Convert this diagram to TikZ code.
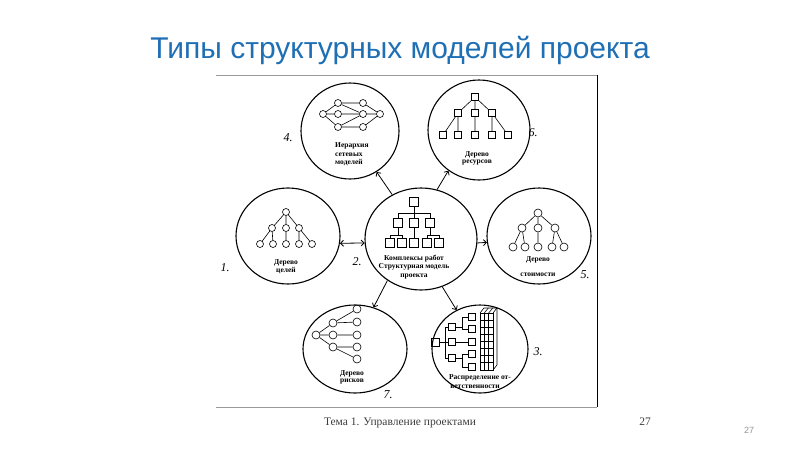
\documentclass[tikz,border=0pt]{standalone}
\usepackage{fontspec}
\setmainfont{Liberation Serif}
\newfontfamily\titlefont{Liberation Sans}
\usetikzlibrary{shapes.geometric,arrows.meta}
\definecolor{titleblue}{RGB}{31,111,181}
\definecolor{footgray}{RGB}{60,60,60}
\definecolor{numgray}{RGB}{150,150,150}
\begin{document}
\begin{tikzpicture}[x=1pt,y=-1pt,
  big/.style={ellipse,draw,line width=1.1pt,inner sep=0pt},
  tn/.style={circle,draw,line width=0.6pt,inner sep=0pt,minimum size=7pt},
  tb/.style={rectangle,draw,line width=0.6pt,inner sep=0pt,minimum size=7pt},
  lnk/.style={line width=0.6pt},
  arr/.style={line width=0.8pt,-{Straight Barb[length=3pt,width=6pt]}},
  darr/.style={line width=0.8pt,{Straight Barb[length=3pt,width=6pt]}-{Straight Barb[length=3pt,width=6pt]}},
  capt/.style={font=\bfseries\fontsize{7.5}{8}\selectfont,inner sep=0pt},
  num/.style={font=\itshape\fontsize{12}{12}\selectfont,inner sep=0pt}
]
\useasboundingbox (0,0) rectangle (800,450);

% title
\node[font=\titlefont\fontsize{30}{30}\selectfont,text=titleblue,anchor=base,inner sep=0pt] (title) at (400,58) {Типы структурных моделей проекта};

% frame of picture
\draw[gray!80,line width=0.8pt] (216,75) -- (597,75);
\draw[black,line width=0.8pt] (597,75) -- (597,407);
\draw[gray!80,line width=0.8pt] (216,407) -- (597,407);

% big circles
\node[big,minimum width=104pt,minimum height=96pt] (c1) at (288,236) {};
\node[big,minimum width=112pt,minimum height=102pt] (c2) at (421,239) {};
\node[big,minimum width=96pt,minimum height=88pt] (c3) at (480,349) {};
\node[big,minimum width=98pt,minimum height=96pt] (c4) at (350,131) {};
\node[big,minimum width=104pt,minimum height=96pt] (c5) at (539,236) {};
\node[big,minimum width=102pt,minimum height=100pt] (c6) at (479,130) {};
\node[big,minimum width=104pt,minimum height=88pt] (c7) at (355,349) {};

% connectors
\draw[darr] (c1.352) -- (c2.184);
\draw[arr] (c2.356) -- (c5.187);
\draw[arr] (c2.123) -- (c4.303);
\draw[arr] (c2.72) -- (c6.233);
\draw[arr] (c2.231) -- (c7.66);
\draw[arr] (c2.294) -- (c3.121);

% ---- circle 1: tree of goals
\node[tn] (a1) at (286,212) {};
\node[tn] (a1m1) at (272,228) {};
\node[tn] (a1m2) at (286,228) {};
\node[tn] (a1m3) at (299,228) {};
\node[tn] (a1b1) at (260,244) {};
\node[tn] (a1b2) at (273,244) {};
\node[tn] (a1b3) at (286,244) {};
\node[tn] (a1b4) at (299,244) {};
\node[tn] (a1b5) at (312,244) {};
\draw[lnk] (a1)--(a1m1) (a1)--(a1m2) (a1)--(a1m3)
  (a1m1)--(a1b1) (a1m1)--(a1b2) (a1m2)--(a1b3) (a1m3)--(a1b4) (a1m3)--(a1b5);
\node[capt] (t1a) at (286,263) {Дерево};
\node[capt] (t1b) at (286,271) {целей};
\node[num] (n1) at (225,268) {1.};

% ---- circle 2: work packages
\begin{scope}[every node/.style={tb,minimum size=9pt}]
\node (a2) at (414,202) {};
\node (a2m1) at (398,223) {};
\node (a2m2) at (414,223) {};
\node (a2m3) at (430,223) {};
\node (a2b1) at (390,243) {};
\node (a2b2) at (402,243) {};
\node (a2b3) at (414,243) {};
\node (a2b4) at (427,243) {};
\node (a2b5) at (439,243) {};
\end{scope}
\draw[lnk] (a2.south) -- ++(0,6.5) -| (a2m1.north);
\draw[lnk] (a2.south) -- ++(0,6.5) -| (a2m3.north);
\draw[lnk] (a2) -- (a2m2);
\draw[lnk] (a2m1.south) -- ++(0,7.5) -| (a2b1.north);
\draw[lnk] (a2m1.south) -- ++(0,7.5) -| (a2b2.north);
\draw[lnk] (a2m2) -- (a2b3);
\draw[lnk] (a2m3.south) -- ++(0,7.5) -| (a2b4.north);
\draw[lnk] (a2m3.south) -- ++(0,7.5) -| (a2b5.north);
\node[font=\bfseries\fontsize{7.5}{8.6}\selectfont,inner sep=0pt,align=center] (t2) at (414,267) {Комплексы работ\\Структурная модель\\проекта};
\node[num] (n2) at (357,262) {2.};

% ---- circle 3: responsibility
\node[tb,minimum size=8pt] (a3) at (435,342) {};
\node[tb] (a3m1) at (452,327) {};
\node[tb] (a3m2) at (452,342) {};
\node[tb] (a3m3) at (452,358) {};
\node[tb] (a3l1) at (472,317) {};
\node[tb] (a3l2) at (472,329) {};
\node[tb] (a3l3) at (472,342) {};
\node[tb] (a3l4) at (472,354) {};
\node[tb] (a3l5) at (472,367) {};
\draw[lnk] (a3.east) -- ++(5.5,0) |- (a3m1.west);
\draw[lnk] (a3.east) -- ++(5.5,0) |- (a3m3.west);
\draw[lnk] (a3) -- (a3m2);
\draw[lnk] (a3m1.east) -- ++(6.5,0) |- (a3l1.west);
\draw[lnk] (a3m1.east) -- ++(6.5,0) |- (a3l2.west);
\draw[lnk] (a3m2) -- (a3l3);
\draw[lnk] (a3m3.east) -- ++(6.5,0) |- (a3l4.west);
\draw[lnk] (a3m3.east) -- ++(6.5,0) |- (a3l5.west);
% responsibility grid
\draw[lnk] (480,313) rectangle (493,370);
\foreach \gx in {484.3,488.7} \draw[lnk] (\gx,313) -- (\gx,370);
\foreach \gy in {320,327,334,341,348,355,362} \draw[lnk] (480,\gy) -- (493,\gy);
\draw[lnk] (480,313) -- (484,308) -- (497,308) -- (493,313);
\draw[lnk] (484.3,313) -- (488.3,308) (488.7,313) -- (492.7,308);
\draw[lnk] (497,308) -- (497,365) -- (493,370);
\node[capt] (t3a) at (480,378) {Распределение от-};
\node[capt] (t3b) at (475,387) {ветственности};
\node[num] (n3) at (538,352) {3.};

% ---- circle 4: network hierarchy
\node[tn] (a4n0) at (323,114) {};
\node[tn] (a4n1) at (338,103) {};
\node[tn] (a4n2) at (338,114) {};
\node[tn] (a4n3) at (338,127) {};
\node[tn] (a4n4) at (363,103) {};
\node[tn] (a4n5) at (363,114) {};
\node[tn] (a4n6) at (363,127) {};
\node[tn] (a4n7) at (380,114) {};
\draw[lnk] (a4n0)--(a4n1) (a4n0)--(a4n2) (a4n0)--(a4n3)
  (a4n1)--(a4n4) (a4n2)--(a4n5) (a4n3)--(a4n6)
  (a4n1)--(a4n5) (a4n3)--(a4n5)
  (a4n4)--(a4n7) (a4n5)--(a4n7) (a4n6)--(a4n7);
\node[capt,anchor=base west] (t4a) at (335,147.5) {Иерархия};
\node[capt,anchor=base west] (t4b) at (335,156) {сетевых};
\node[capt,anchor=base west] (t4c) at (335,164.5) {моделей};
\node[num] (n4) at (288,138) {4.};

% ---- circle 5: cost tree
\begin{scope}[every node/.style={tn,minimum size=8pt}]
\node (a5) at (538,213) {};
\node (a5m1) at (522,228) {};
\node (a5m2) at (538,228) {};
\node (a5m3) at (555,228) {};
\node (a5b1) at (513,247) {};
\node (a5b2) at (525,247) {};
\node (a5b3) at (538,247) {};
\node (a5b4) at (552,247) {};
\node (a5b5) at (564,247) {};
\end{scope}
\draw[lnk] (a5)--(a5m1) (a5)--(a5m2) (a5)--(a5m3)
  (a5m1)--(a5b1) (a5m1)--(a5b2) (a5m2)--(a5b3) (a5m3)--(a5b4) (a5m3)--(a5b5);
\node[capt] (t5a) at (538,260) {Дерево};
\node[capt] (t5b) at (538,275) {стоимости};
\node[num] (n5) at (585,275) {5.};

% ---- circle 6: resource tree
\node[tb] (a6) at (475,97) {};
\node[tb] (a6m1) at (458,113) {};
\node[tb] (a6m2) at (475,113) {};
\node[tb] (a6m3) at (492,113) {};
\node[tb] (a6b1) at (443,135) {};
\node[tb] (a6b2) at (458,135) {};
\node[tb] (a6b3) at (475,135) {};
\node[tb] (a6b4) at (492,135) {};
\node[tb] (a6b5) at (508,135) {};
\draw[lnk] (a6)--(a6m1) (a6)--(a6m2) (a6)--(a6m3)
  (a6m1)--(a6b1) (a6m1)--(a6b2) (a6m2)--(a6b3) (a6m3)--(a6b4) (a6m3)--(a6b5);
\node[capt] (t6a) at (477,155) {Дерево};
\node[capt] (t6b) at (477,163) {ресурсов};
\node[num] (n6) at (533,133) {6.};

% ---- circle 7: risk tree
\begin{scope}[every node/.style={tn,minimum size=8pt}]
\node (a7) at (316,335) {};
\node (a7m1) at (333,323) {};
\node (a7m2) at (333,335) {};
\node (a7m3) at (333,347) {};
\node (a7l1) at (357,309) {};
\node (a7l2) at (357,322) {};
\node (a7l3) at (357,335) {};
\node (a7l4) at (357,347) {};
\node (a7l5) at (357,359) {};
\end{scope}
\draw[lnk] (a7)--(a7m1) (a7)--(a7m2) (a7)--(a7m3)
  (a7m1)--(a7l1) (a7m1)--(a7l2) (a7m2)--(a7l3) (a7m3)--(a7l4) (a7m3)--(a7l5);
\node[capt] (t7a) at (352,374) {Дерево};
\node[capt] (t7b) at (352,382) {рисков};
\node[num] (n7) at (388,395) {7.};

% footer
\node[font=\fontsize{11.5}{12}\selectfont,text=footgray,anchor=base,inner sep=0pt] (foot) at (400,425) {Тема 1. Управление проектами};
\node[font=\fontsize{11.5}{12}\selectfont,text=footgray,anchor=base,inner sep=0pt] (pg) at (645,425) {27};
\node[font=\titlefont\fontsize{9}{9}\selectfont,text=numgray,anchor=base,inner sep=0pt] (slide) at (749,433) {27};
\end{tikzpicture}
\end{document}
